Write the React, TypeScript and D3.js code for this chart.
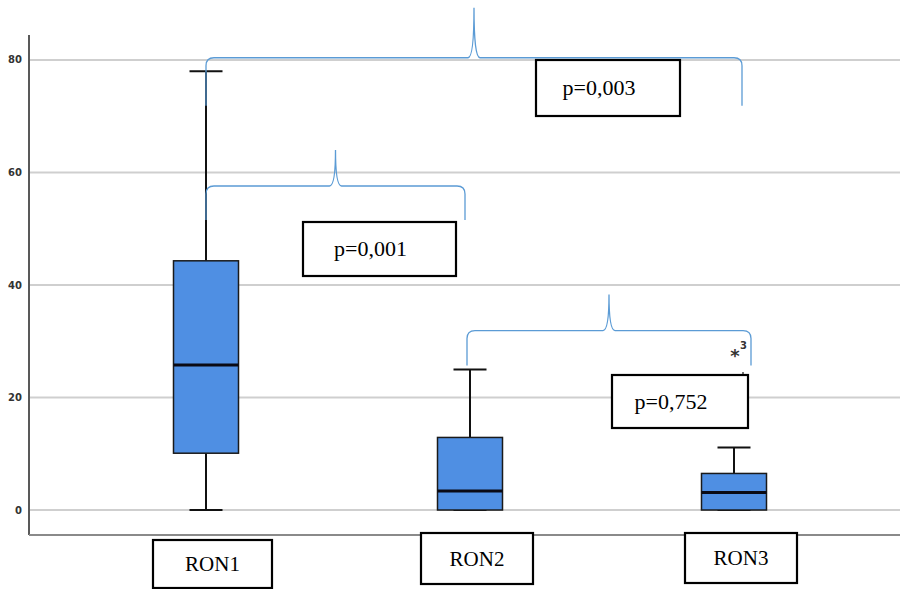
import React from "react"
import * as d3 from "d3"

const groups = ["RON1", "RON2", "RON3"]
const q1 = [10.1, 0, 0]
const median = [25.8, 3.4, 3.1]
const q3 = [44.3, 12.9, 6.5]
const whiskerLow = [0, 0, 0]
const whiskerHigh = [78, 25, 11.1]
const yTicks = [0, 20, 40, 60, 80]

const outliers = [{ group: "RON3", value: 27.9, label: "3" }]

// brace between two groups, drawn at a value level with a p-value box
const comparisons = [
  { from: "RON1", to: "RON3", level: 80.4, p: "p=0,003" },
  { from: "RON1", to: "RON2", level: 57.6, p: "p=0,001" },
  { from: "RON2", to: "RON3", level: 31.9, p: "p=0,752" },
]

const W = 900
const H = 589

export default function App() {
  const x = d3.scaleBand().domain(groups).range([74, 866])
  const y = d3.scaleLinear().domain([-4.44, 84.44]).range([535, 35])
  const cx = (g: string) => (x(g) as number) + x.bandwidth() / 2
  const boxW = 65
  const capW = 33

  const bracePath = (x1: number, x2: number, yTop: number, drop: number, rise: number) => {
    const r = 8
    const m = (x1 + x2) / 2
    const p = d3.path()
    p.moveTo(x1, yTop + drop)
    p.lineTo(x1, yTop + r)
    p.quadraticCurveTo(x1, yTop, x1 + r, yTop)
    p.lineTo(m - 6, yTop)
    p.quadraticCurveTo(m, yTop, m, yTop - rise)
    p.quadraticCurveTo(m, yTop, m + 6, yTop)
    p.lineTo(x2 - r, yTop)
    p.quadraticCurveTo(x2, yTop, x2, yTop + r)
    p.lineTo(x2, yTop + drop)
    return p.toString()
  }

  const braceGeom = [
    { x1: cx("RON1"), x2: cx("RON3") + 8, drop: 48, rise: 50, box: [536, 60, 144, 56] },
    { x1: cx("RON1"), x2: cx("RON2") - 5, drop: 34, rise: 36, box: [303, 222, 153, 54] },
    { x1: cx("RON2") - 3, x2: cx("RON3") + 17, drop: 35, rise: 36, box: [612, 375, 136, 53] },
  ]

  const labelBoxes = [
    [153, 540, 119, 48],
    [421, 533, 112, 51],
    [685, 533, 112, 50],
  ]

  return (
    <svg width={W} height={H} style={{ position: "absolute", left: 0, top: 0, background: "#fff" }}>
      {yTicks.map(t => (
        <g key={t}>
          <line x1={30} x2={W} y1={y(t)} y2={y(t)} stroke="#cfcfcf" strokeWidth={2} />
          <text x={22} y={y(t) + 3.5} textAnchor="end" fontSize={10} fontWeight="bold" fontFamily="DejaVu Sans" fill="#333">
            {t}
          </text>
        </g>
      ))}
      <line x1={29} x2={29} y1={35} y2={535} stroke="#222" strokeWidth={1.5} />
      <line x1={29} x2={W} y1={535} y2={535} stroke="#8a8a8a" strokeWidth={2} />

      {groups.map((g, i) => {
        const c = cx(g)
        return (
          <g key={g}>
            <line x1={c} x2={c} y1={y(whiskerHigh[i])} y2={y(q3[i])} stroke="#111" strokeWidth={2} />
            <line x1={c} x2={c} y1={y(q1[i])} y2={y(whiskerLow[i])} stroke="#111" strokeWidth={2} />
            <line x1={c - capW / 2} x2={c + capW / 2} y1={y(whiskerHigh[i])} y2={y(whiskerHigh[i])} stroke="#111" strokeWidth={2} />
            <line x1={c - capW / 2} x2={c + capW / 2} y1={y(whiskerLow[i])} y2={y(whiskerLow[i])} stroke="#111" strokeWidth={2} />
            <rect x={c - boxW / 2} y={y(q3[i])} width={boxW} height={y(q1[i]) - y(q3[i])} fill="#4f8fe3" stroke="#1a1a1a" strokeWidth={1.5} />
            <line x1={c - boxW / 2} x2={c + boxW / 2} y1={y(median[i])} y2={y(median[i])} stroke="#0a0a14" strokeWidth={3} />
          </g>
        )
      })}

      {outliers.map(o => (
        <g key={o.label}>
          <text x={cx(o.group) + 1} y={y(o.value) + 9} textAnchor="middle" fontSize={18} fontWeight="bold" fontFamily="DejaVu Sans" fill="#333">
            *
          </text>
          <text x={cx(o.group) + 6} y={y(o.value) - 4} fontSize={10} fontWeight="bold" fontFamily="DejaVu Sans" fill="#333">
            {o.label}
          </text>
        </g>
      ))}
      <circle cx={743} cy={373} r={1} fill="#444" />

      {comparisons.map((cmp, i) => {
        const gm = braceGeom[i]
        const [bx, by, bw, bh] = gm.box
        return (
          <g key={cmp.p}>
            <path d={bracePath(gm.x1, gm.x2, y(cmp.level), gm.drop, gm.rise)} fill="none" stroke="#5b9bd5" strokeWidth={1.3} />
            <rect x={bx} y={by} width={bw} height={bh} fill="#fff" stroke="#000" strokeWidth={2.2} />
            <text x={bx + bw / 2 - 9} y={by + bh / 2 + 7} textAnchor="middle" fontSize={22} fontFamily="Liberation Serif" fill="#000">
              {cmp.p}
            </text>
          </g>
        )
      })}

      {groups.map((g, i) => {
        const [bx, by, bw, bh] = labelBoxes[i]
        return (
          <g key={"l" + g}>
            <rect x={bx} y={by} width={bw} height={bh} fill="#fff" stroke="#000" strokeWidth={2.2} />
            <text x={bx + bw / 2} y={by + bh / 2 + 7} textAnchor="middle" fontSize={21} fontFamily="Liberation Serif" fill="#000">
              {g}
            </text>
          </g>
        )
      })}
    </svg>
  )
}
